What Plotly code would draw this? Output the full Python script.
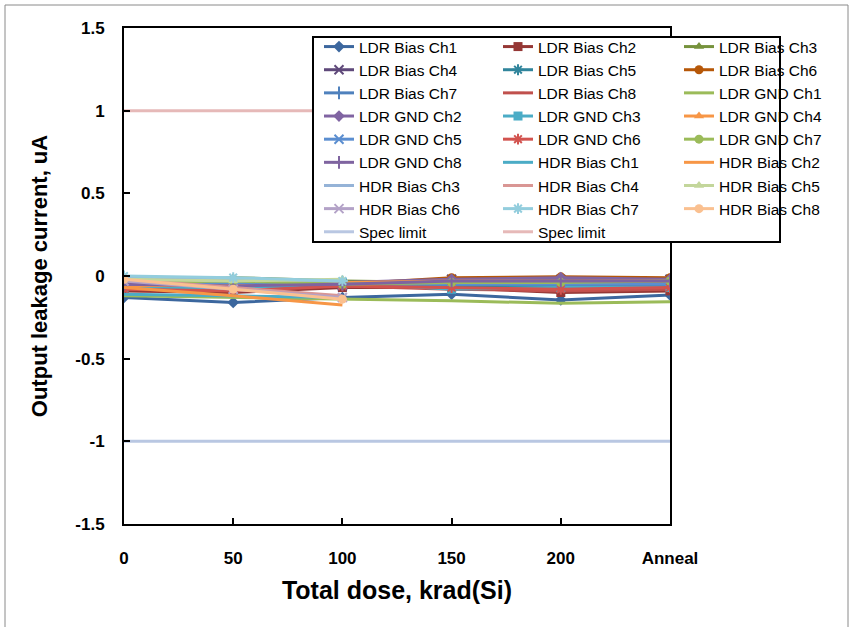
import plotly.graph_objects as go

# ---------------- data ----------------
dose_x = [0, 50, 100, 150, 200, 250]
tick_labels = ["0", "50", "100", "150", "200", "Anneal"]
hdr_x = [0, 50, 100]

ldr_bias_ch1 = [-0.13, -0.16, -0.13, -0.11, -0.145, -0.115]
ldr_bias_ch2 = [-0.09, -0.10, -0.07, -0.07, -0.10, -0.09]
ldr_bias_ch3 = [-0.04, -0.01, -0.03, -0.04, -0.04, -0.04]
ldr_bias_ch4 = [-0.05, -0.06, -0.06, -0.02, -0.02, -0.02]
ldr_bias_ch5 = [-0.06, -0.06, -0.05, -0.06, -0.06, -0.06]
ldr_bias_ch6 = [-0.03, -0.04, -0.05, -0.01, -0.005, -0.01]
ldr_bias_ch7 = [-0.05, -0.05, -0.04, -0.04, -0.04, -0.04]
ldr_bias_ch8 = [-0.07, -0.08, -0.06, -0.08, -0.09, -0.08]
ldr_gnd_ch1 = [-0.12, -0.13, -0.14, -0.15, -0.165, -0.155]
ldr_gnd_ch2 = [-0.06, -0.07, -0.04, -0.02, -0.01, -0.02]
ldr_gnd_ch3 = [-0.07, -0.08, -0.04, -0.08, -0.07, -0.07]
ldr_gnd_ch4 = [-0.06, -0.05, -0.04, -0.03, -0.03, -0.03]
ldr_gnd_ch5 = [-0.05, -0.04, -0.05, -0.05, -0.05, -0.05]
ldr_gnd_ch6 = [-0.08, -0.09, -0.06, -0.07, -0.08, -0.07]
ldr_gnd_ch7 = [-0.04, -0.03, -0.05, -0.04, -0.04, -0.03]
ldr_gnd_ch8 = [-0.05, -0.06, -0.05, -0.03, -0.03, -0.03]

hdr_bias_ch1 = [-0.11, -0.12, -0.13]
hdr_bias_ch2 = [-0.07, -0.12, -0.175]
hdr_bias_ch3 = [-0.01, -0.02, -0.03]
hdr_bias_ch4 = [-0.02, -0.07, -0.12]
hdr_bias_ch5 = [-0.02, -0.03, -0.02]
hdr_bias_ch6 = [-0.03, -0.08, -0.13]
hdr_bias_ch7 = [0.0, -0.01, -0.03]
hdr_bias_ch8 = [-0.02, -0.08, -0.14]

spec_low = [-1, -1, -1, -1, -1, -1]
spec_high = [1, 1, 1, 1, 1, 1]

# ---------------- styles ----------------
series = [
    ("LDR Bias Ch1", dose_x, ldr_bias_ch1, "#3C679E", "diamond"),
    ("LDR Bias Ch2", dose_x, ldr_bias_ch2, "#953735", "square"),
    ("LDR Bias Ch3", dose_x, ldr_bias_ch3, "#76923C", "triangle-up"),
    ("LDR Bias Ch4", dose_x, ldr_bias_ch4, "#5F497A", "x-thin"),
    ("LDR Bias Ch5", dose_x, ldr_bias_ch5, "#31859C", "asterisk"),
    ("LDR Bias Ch6", dose_x, ldr_bias_ch6, "#B65708", "circle"),
    ("LDR Bias Ch7", dose_x, ldr_bias_ch7, "#4F81BD", "cross-thin"),
    ("LDR Bias Ch8", dose_x, ldr_bias_ch8, "#C0504D", "line-ew"),
    ("LDR GND Ch1", dose_x, ldr_gnd_ch1, "#9BBB59", None),
    ("LDR GND Ch2", dose_x, ldr_gnd_ch2, "#8064A2", "diamond"),
    ("LDR GND Ch3", dose_x, ldr_gnd_ch3, "#4BACC6", "square"),
    ("LDR GND Ch4", dose_x, ldr_gnd_ch4, "#F79646", "triangle-up"),
    ("LDR GND Ch5", dose_x, ldr_gnd_ch5, "#5B8ED0", "x-thin"),
    ("LDR GND Ch6", dose_x, ldr_gnd_ch6, "#D2534F", "asterisk"),
    ("LDR GND Ch7", dose_x, ldr_gnd_ch7, "#9BBB59", "circle"),
    ("LDR GND Ch8", dose_x, ldr_gnd_ch8, "#7F64A0", "cross-thin"),
    ("HDR Bias Ch1", hdr_x, hdr_bias_ch1, "#4BACC6", None),
    ("HDR Bias Ch2", hdr_x, hdr_bias_ch2, "#F79646", None),
    ("HDR Bias Ch3", hdr_x, hdr_bias_ch3, "#95B3D7", None),
    ("HDR Bias Ch4", hdr_x, hdr_bias_ch4, "#D99694", None),
    ("HDR Bias Ch5", hdr_x, hdr_bias_ch5, "#C3D69B", "triangle-up"),
    ("HDR Bias Ch6", hdr_x, hdr_bias_ch6, "#B3A2C7", "x-thin"),
    ("HDR Bias Ch7", hdr_x, hdr_bias_ch7, "#93CDDD", "asterisk"),
    ("HDR Bias Ch8", hdr_x, hdr_bias_ch8, "#FAC090", "circle"),
    ("Spec limit", dose_x, spec_low, "#B9C7E2", None),
    ("Spec limit", dose_x, spec_high, "#E6B9B8", None),
]

legend_ids = ["legend", "legend2", "legend3"]

fig = go.Figure()
for i, (name, xs, ys, color, sym) in enumerate(series):
    lg = legend_ids[i % 3]
    if sym is None:
        fig.add_trace(go.Scatter(x=xs, y=ys, name=name, mode="lines", legend=lg,
                                 line=dict(color=color, width=3)))
    else:
        thin = sym in ("x-thin", "asterisk", "cross-thin", "line-ew")
        marker = dict(symbol=sym, color=color, size=9,
                      line=dict(color=color, width=2 if thin else 0))
        fig.add_trace(go.Scatter(x=xs, y=ys, name=name, mode="lines+markers", legend=lg,
                                 line=dict(color=color, width=3), marker=marker))

L, R, T, B = 124, 670, 28, 524
W, H = 860, 627
pw, ph = R - L, B - T

def px_x(v):
    return (v - L) / pw

def px_y(v):
    return (B - v) / ph

FONT = "Liberation Sans, Arial, sans-serif"

def legend_cfg(xpix):
    return dict(
        orientation="v", x=px_x(xpix), y=px_y(30), xanchor="left", yanchor="top",
        bgcolor="rgba(0,0,0,0)", borderwidth=0,
        font=dict(size=15.5, color="black", family=FONT),
        traceorder="normal",
    )

fig.update_layout(
    width=W, height=H,
    margin=dict(l=L, r=W - R, t=T, b=H - B, pad=0, autoexpand=False),
    paper_bgcolor="white", plot_bgcolor="white",
    font=dict(family=FONT, color="black"),
    showlegend=True,
    legend=legend_cfg(319),
    legend2=legend_cfg(498),
    legend3=legend_cfg(679),
    xaxis=dict(
        range=[0, 250], tickvals=dose_x, ticktext=tick_labels,
        showgrid=False, zeroline=False,
        showline=True, linecolor="black", linewidth=2, mirror=True,
        ticks="inside", ticklen=6, tickwidth=1.5, tickcolor="black",
        tickfont=dict(size=17, family=FONT, color="black", weight="bold"),
        ticklabelstandoff=18,
        title=dict(text="<b>Total dose, krad(Si)</b>", font=dict(size=25), standoff=14),
    ),
    yaxis=dict(
        range=[-1.5, 1.5], tickvals=[-1.5, -1, -0.5, 0, 0.5, 1, 1.5],
        ticktext=["-1.5", "-1", "-0.5", "0", "0.5", "1", "1.5"],
        showgrid=False, zeroline=False,
        showline=True, linecolor="black", linewidth=2, mirror=True,
        ticks="inside", ticklen=6, tickwidth=1.5, tickcolor="black",
        tickfont=dict(size=17, family=FONT, color="black", weight="bold"),
        ticklabelstandoff=14,
        title=dict(text="<b>Output leakage current, uA</b>", font=dict(size=22), standoff=22),
    ),
    shapes=[
        dict(type="rect", xref="paper", yref="paper",
             x0=px_x(5), x1=px_x(848), y0=px_y(640), y1=px_y(5),
             line=dict(color="#8a8a8a", width=1), layer="below"),
        dict(type="rect", xref="paper", yref="paper",
             x0=px_x(313), x1=px_x(780), y0=px_y(242), y1=px_y(37),
             fillcolor="white", line=dict(color="black", width=2), layer="above"),
    ],
)

fig.write_html("out.html")
